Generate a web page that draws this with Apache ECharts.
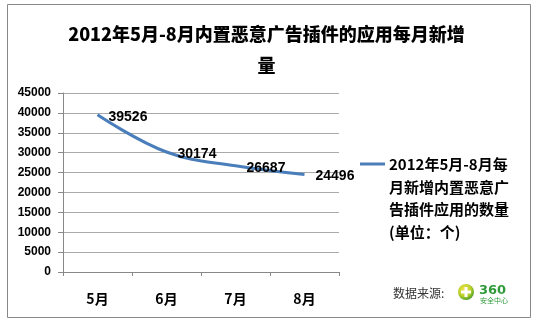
<!DOCTYPE html>
<html><head><meta charset="utf-8">
<script src="https://cdn.jsdelivr.net/npm/echarts@6/dist/echarts.min.js"></script>
<style>html,body{margin:0;padding:0;background:#fff}#c{width:533px;height:322px}</style>
</head><body><div id="c"></div>
<script>
const categories = ['5月', '6月', '7月', '8月'];
const values = [39526, 30174, 26687, 24496];
const seriesName = '2012年5月-8月每月新增内置恶意广告插件应用的数量(单位：个)';
const legendLines = ['2012年5月-8月每', '月新增内置恶意广', '告插件应用的数量', '(单位：个)'];
const titleText = '2012年5月-8月内置恶意广告插件的应用每月新增\n量';
const sourceText = '数据来源:';

const chart = echarts.init(document.getElementById('c'));
const cjk = '"Noto Sans CJK SC", sans-serif';
const num = '"Liberation Sans", Arial, sans-serif';
chart.setOption({
  animation: false,
  backgroundColor: '#fff',
  title: {
    text: titleText, left: 'center', top: 14,
    textStyle: { fontFamily: cjk, fontWeight: 900, fontSize: 18, color: '#000', lineHeight: 31 }
  },
  grid: { left: 63, right: 194, top: 93, bottom: 50 },
  xAxis: {
    type: 'category', data: categories, boundaryGap: true,
    axisLine: { lineStyle: { color: '#888', width: 1 } },
    axisTick: { show: true, length: 4, lineStyle: { color: '#888' } },
    axisLabel: { margin: 20, fontFamily: cjk, fontWeight: 'bold', fontSize: 14, color: '#000' }
  },
  yAxis: {
    type: 'value', min: 0, max: 45000, interval: 5000,
    axisLine: { show: true, lineStyle: { color: '#888', width: 1 } },
    axisTick: { show: true, length: 5, lineStyle: { color: '#888' } },
    axisLabel: { margin: 12, fontFamily: num, fontWeight: 'bold', fontSize: 12, color: '#000', formatter: v => String(v) },
    splitLine: { lineStyle: { color: '#aaa', width: 1 } }
  },
  series: [{
    name: seriesName, type: 'line', data: values, smooth: 0.4,
    symbol: 'circle', symbolSize: 0, showSymbol: true,
    lineStyle: { color: '#4a7ebb', width: 3 },
    itemStyle: { color: '#4a7ebb' },
    label: { show: true, position: 'right', distance: 11, offset: [0, 2], fontFamily: num, fontWeight: 'bold', fontSize: 14, color: '#000' }
  }],
  graphic: [
    { type: 'rect', shape: { x: 7.5, y: 4.5, width: 523, height: 313 }, style: { fill: 'none', stroke: '#888', lineWidth: 1 }, silent: true, z: -1 },
    { type: 'line', shape: { x1: 360, y1: 164, x2: 385, y2: 164 }, style: { stroke: '#4a7ebb', lineWidth: 3 } },
    { type: 'text', left: 389, top: 153, style: { text: legendLines.join('\n'), font: 'bold 15px "Noto Sans CJK SC"', fill: '#000', lineHeight: 22.7 } },
    { type: 'text', left: 393, top: 287, style: { text: sourceText, font: '12px "Noto Sans CJK SC"', fill: '#333' } },
    { type: 'circle', shape: { cx: 466, cy: 292, r: 8 }, style: { fill: { type: 'radial', x: 0.4, y: 0.35, r: 0.7, colorStops: [{ offset: 0, color: '#f7e64a' }, { offset: 0.6, color: '#b7cf2a' }, { offset: 1, color: '#3f9a2a' }] } } },
    { type: 'rect', shape: { x: 464.5, y: 287, width: 3, height: 10 }, style: { fill: '#fff' } },
    { type: 'rect', shape: { x: 461, y: 290.5, width: 10, height: 3 }, style: { fill: '#fff' } },
    { type: 'text', left: 479, top: 284, style: { text: '360', font: 'bold 13px "DejaVu Sans"', fill: '#2f9a3a' } },
    { type: 'text', left: 480, top: 297, style: { text: '安全中心', font: '7px "Noto Sans CJK SC"', fill: '#2f9a3a' } }
  ]
});
</script></body></html>
